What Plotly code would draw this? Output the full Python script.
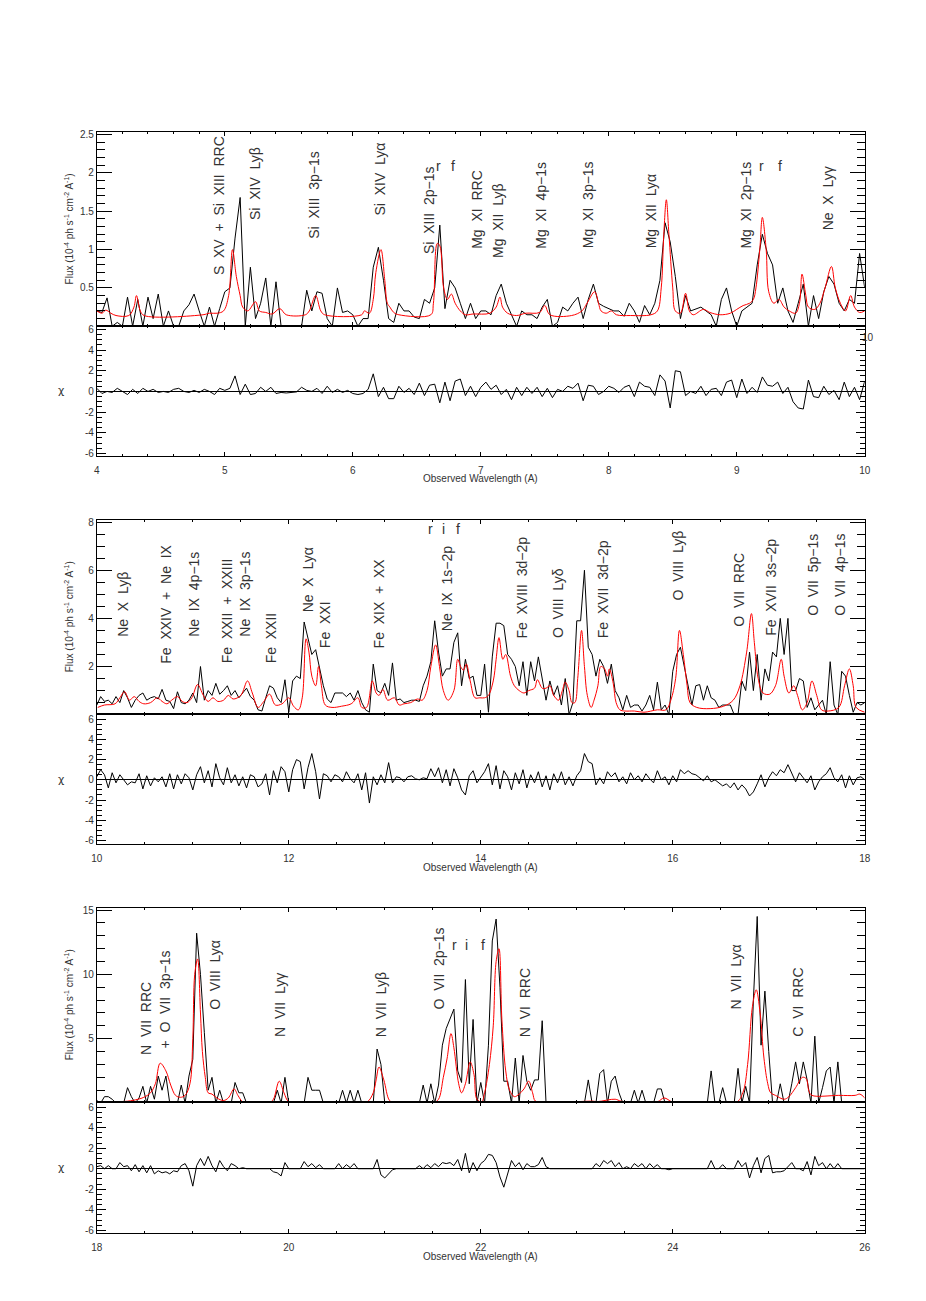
import numpy as np
import plotly.graph_objects as go

# ---------------- panel 1 : 4 - 10 A ----------------
wave1 = np.round(np.arange(4.0, 10.0001, 0.04), 2)
flux1 = [0.20, 0.18, 0.37, 0.00, 0.05, 0.00, 0.38, 0.00, 0.35, 0.00,
         0.38, 0.10, 0.42, 0.00, 0.20, 0.00, 0.00, 0.20, 0.28, 0.42,
         0.20, 0.00, 0.25, 0.00, 0.23, 0.45, 0.50, 1.15, 1.68, 0.00,
         0.77, 0.10, 0.30, 0.63, 0.00, 0.58, 0.00, 0.00, 0.00, 0.00,
         0.00, 0.47, 0.20, 0.45, 0.43, 0.10, 0.00, 0.50, 0.18, 0.20,
         0.15, 0.00, 0.10, 0.10, 0.77, 1.03, 0.60, 0.10, 0.05, 0.30,
         0.20, 0.20, 0.12, 0.10, 0.35, 0.30, 0.50, 1.32, 0.23, 0.60,
         0.50, 0.30, 0.10, 0.30, 0.10, 0.20, 0.20, 0.15, 0.40, 0.55,
         0.30, 0.15, 0.00, 0.20, 0.15, 0.15, 0.10, 0.25, 0.35, 0.00,
         0.05, 0.25, 0.20, 0.30, 0.38, 0.10, 0.35, 0.55, 0.30, 0.26,
         0.23, 0.20, 0.20, 0.13, 0.30, 0.20, 0.05, 0.27, 0.15, 0.30,
         0.60, 1.35, 1.10, 0.65, 0.10, 0.40, 0.20, 0.23, 0.25, 0.20,
         0.15, 0.00, 0.35, 0.50, 0.20, 0.00, 0.20, 0.25, 0.30, 0.80,
         1.20, 0.95, 0.80, 0.30, 0.50, 0.20, 0.05, 0.30, 0.55, 0.00,
         0.40, 0.10, 0.45, 0.65, 0.55, 0.30, 0.20, 0.35, 0.30, 0.95,
         0.50]
chi1 = [0.3, -0.2, 0.0, -0.1, 0.3, 0.0, -0.3, 0.2, -0.2, 0.3,
        0.0, 0.2, -0.1, 0.0, -0.1, 0.2, 0.3, 0.0, -0.1, 0.1,
        -0.1, 0.2, 0.0, -0.3, 0.3, 0.1, 0.3, 1.5, -0.3, 0.7,
        -0.3, -0.2, 0.4, 0.0, 0.4, -0.2, -0.1, -0.15, -0.1, -0.05,
        0.4, 0.1, 0.0, 0.3, -0.2, 0.5, -0.1, 0.2, -0.1, 0.1,
        -0.2, -0.3, -0.2, 0.2, 1.7, -0.5, 0.4, -0.7, -0.7, 0.5,
        -0.1, 0.3, -0.3, 0.8, -0.4, 0.6, 0.7, -1.1, 0.9, -0.9,
        1.0, 1.2, -0.4, 0.5, -0.5, 0.4, 0.9, 0.2, 0.6, -0.3,
        0.2, -0.8, 0.4, -0.4, 0.4, -0.2, 0.4, -0.5, 0.3, -0.6,
        0.2, 0.0, 0.5, 0.3, 0.8, -0.9, 0.6, 0.5, -0.3, 0.0,
        0.5, 0.3, -0.1, 0.4, 0.6, -0.5, 0.9, 0.5, 0.4, -0.4,
        1.6, 1.0, -1.6, 2.0, 1.9, -0.4, 0.0, -0.2, 0.5, -0.4,
        0.2, 0.3, -0.4, 0.9, 1.1, -0.6, 1.2, -0.2, 0.4, -0.1,
        1.4, 0.6, 0.5, 0.9, -0.2, 0.4, -1.0, -1.6, -1.7, 1.1,
        -0.5, -0.6, 0.5, -0.3, 0.1, -0.8, 0.9, -0.5, 0.4, -0.8,
        1.0]
mwave1 = [4.00, 4.04, 4.07, 4.11, 4.15, 4.25, 4.29, 4.31, 4.34, 4.37,
          4.83, 4.88, 4.94, 4.99, 5.03, 5.06, 5.09, 5.12, 5.14, 5.18,
          5.24, 5.27, 5.32, 5.37, 5.43, 5.48, 5.63, 5.66, 5.71, 5.75,
          5.78, 6.07, 6.09, 6.13, 6.16, 6.18, 6.22, 6.25, 6.27, 6.29,
          6.32, 6.36, 6.61, 6.63, 6.66, 6.68, 6.71, 6.74, 6.77, 6.80,
          6.84, 6.88, 6.94, 7.07, 7.12, 7.15, 7.17, 7.21, 7.28, 7.35,
          7.46, 7.50, 7.54, 7.71, 7.79, 7.83, 7.89, 7.92, 7.94, 7.98,
          8.02, 8.06, 8.17, 8.33, 8.38, 8.41, 8.43, 8.45, 8.47, 8.50,
          8.52, 8.56, 8.60, 8.63, 8.66, 8.74, 8.79, 8.87, 8.95, 9.00,
          9.05, 9.10, 9.13, 9.15, 9.18, 9.20, 9.23, 9.25, 9.29, 9.33,
          9.37, 9.41, 9.46, 9.49, 9.51, 9.54, 9.56, 9.61, 9.65, 9.69,
          9.74, 9.77, 9.81, 9.85, 9.89, 9.92, 9.96, 10.00]
mflux1 = [0.20, 0.17, 0.21, 0.17, 0.14, 0.14, 0.25, 0.40, 0.20, 0.14,
          0.15, 0.17, 0.17, 0.20, 0.40, 1.00, 0.65, 0.40, 0.25, 0.20,
          0.32, 0.20, 0.18, 0.16, 0.23, 0.15, 0.15, 0.20, 0.40, 0.20,
          0.15, 0.15, 0.20, 0.17, 0.35, 0.70, 1.00, 0.60, 0.30, 0.25,
          0.18, 0.15, 0.15, 0.30, 1.08, 1.05, 0.50, 0.35, 0.42, 0.30,
          0.20, 0.15, 0.16, 0.17, 0.25, 0.38, 0.25, 0.17, 0.14, 0.17,
          0.18, 0.27, 0.15, 0.14, 0.20, 0.30, 0.45, 0.30, 0.20, 0.17,
          0.20, 0.15, 0.14, 0.15, 0.20, 0.50, 1.20, 1.65, 1.20, 0.50,
          0.20, 0.17, 0.43, 0.20, 0.15, 0.22, 0.18, 0.15, 0.17, 0.22,
          0.27, 0.30, 0.35, 0.50, 1.00, 1.42, 1.00, 0.45, 0.30, 0.35,
          0.25, 0.20, 0.17, 0.30, 0.68, 0.40, 0.25, 0.22, 0.30, 0.50,
          0.78, 0.50, 0.30, 0.20, 0.40, 0.25, 0.18, 0.20]

# ---------------- panel 2 : 10 - 18 A ----------------
wave2 = np.round(np.arange(10.0, 18.0001, 0.04), 2)
flux2 = [0.4, 0.75, 0.55, 0.6, 0.45, 0.75, 0.5, 1.0, 0.7, 0.3,
         0.6, 0.8, 0.9, 0.6, 0.7, 0.75, 0.65, 1.05, 0.6, 0.55,
         0.25, 0.95, 0.5, 0.45, 0.6, 0.9, 0.5, 2.0, 0.6, 1.0,
         0.8, 1.3, 0.85, 1.0, 1.2, 0.8, 1.0, 0.7, 0.9, 1.1,
         0.75, 0.6, 0.2, 0.15, 0.7, 1.2, 1.1, 0.7, 0.5, 1.45,
         0.1, 1.4, 1.6, 1.5, 3.85, 3.2, 2.5, 2.7, 2.0, 1.2,
         0.65, 0.5, 0.9, 0.9, 0.9, 0.75, 0.9, 0.6, 1.0, 0.5,
         0.2, 0.1, 2.1, 1.0, 0.9, 1.3, 0.8, 2.15, 0.6, 0.65,
         0.5, 0.55, 0.6, 0.6, 0.55, 1.2, 1.6, 2.2, 3.9, 2.6,
         1.6, 1.9, 1.9, 3.0, 3.4, 1.2, 2.3, 1.5, 1.6, 0.8,
         0.8, 2.1, 0.1, 2.4, 3.8, 3.8, 3.7, 2.5, 2.3, 2.0,
         1.2, 2.2, 0.8, 2.2, 1.4, 2.4, 1.5, 0.6, 1.4, 0.8,
         1.2, 0.4, 1.5, 0.0, 0.5, 3.9, 3.9, 6.0, 2.8, 2.5,
         1.6, 2.3, 2.0, 1.3, 2.1, 1.0, 0.7, 0.2, 0.8, 0.3,
         0.4, 0.4, 0.15, 0.4, 0.8, 0.2, 1.35, 0.2, 0.4, 0.0,
         1.8, 2.5, 2.8, 2.0, 1.2, 0.4, 1.2, 1.25, 0.6, 1.2,
         0.7, 0.6, 0.3, 0.4, 0.4, 0.4, 0.0, 0.0, 1.4, 1.0,
         2.6, 1.0, 2.5, 0.6, 1.9, 1.4, 2.6, 2.4, 4.0, 2.5,
         4.0, 1.0, 1.0, 1.5, 1.4, 0.3, 0.7, 0.2, 0.4, 0.6,
         0.0, 2.2, 0.4, 0.0, 1.8, 1.6, 0.8, 0.1, 0.5, 0.4,
         0.5]
chi2 = [0.3, 1.0, 0.5, -0.8, 0.7, -0.3, 0.5, 0.0, -0.5, -0.2,
        -0.3, 0.6, -0.9, 0.4, -0.6, 0.2, -0.2, 0.3, -0.7, 0.6,
        -0.9, 0.5, -0.4, 0.6, 0.2, -1.0, 0.5, 1.3, -0.3, 0.9,
        -0.7, 1.6, 0.2, -0.5, 1.2, -0.3, 0.5, -0.6, 0.3, -0.8,
        0.5, 0.3, -0.7, -0.4, 0.6, -1.5, 0.9, -0.3, 1.3, 0.8,
        -1.2, 1.0, 2.0, 1.8, -0.9, 1.2, 2.6, 0.8, -1.9, 0.6,
        0.4, -0.2, 0.5, 0.3, -0.2, 0.8, 0.1, -0.3, 0.6, -1.0,
        0.7, -2.3, 0.3, -0.5, 0.5, -0.3, 1.7, -0.3, 0.3, 0.2,
        -0.2, 0.3, 0.4, 0.1, 0.0, 0.2, 0.1, 1.1, 0.3, 1.2,
        -0.3, 1.0, -0.6, 1.1, 0.2, -1.0, -1.5, 0.4, 0.9, -0.3,
        0.3, 0.8, 1.6, -0.5, 1.4, -0.9, 0.9, 0.3, -1.0, 0.7,
        -0.4, 1.0, -0.8, 0.5, -0.3, 0.8, -0.7, 0.4, -1.0, 0.6,
        -0.3, 0.8, -0.5, 0.3, -0.6, 0.4, 0.9, 2.6, 1.8, 1.6,
        -0.5, 0.2, -0.4, 0.8, 0.3, 0.7, -0.2, 0.3, -0.4, 0.7,
        0.0, 0.4, -0.2, 0.6, 0.1, -0.3, 0.9, 0.0, 0.3, -0.5,
        0.4, -0.2, 1.0, 0.6, 0.9, 0.6, 0.5, 0.2, -0.1, 0.4,
        -0.2, 0.0, -0.3, -0.6, -0.4, -0.8, -0.3, -1.0, -0.5, -0.9,
        -1.6, -1.2, -0.4, 0.5, -0.7, 0.2, 0.8, 0.4, 1.0, 0.7,
        1.5, 0.6, -0.2, 0.7, 0.2, -0.3, 0.4, -1.0, -0.2, 0.3,
        0.6, 1.2, 0.2, -0.2, 0.5, -0.8, 0.4, -0.5, 0.2, 0.3,
        0.0]
mwave2 = [10.01, 10.08, 10.19, 10.24, 10.29, 10.34, 10.39, 10.44, 10.49, 10.56,
          10.63, 10.68, 10.73, 10.78, 10.84, 10.89, 10.94, 10.99, 11.05, 11.11,
          11.16, 11.21, 11.26, 11.32, 11.37, 11.42, 11.50, 11.57, 11.62, 11.68,
          11.74, 11.80, 11.86, 11.93, 12.00, 12.05, 12.10, 12.14, 12.18, 12.21,
          12.24, 12.28, 12.31, 12.34, 12.38, 12.45, 12.55, 12.65, 12.72, 12.76,
          12.81, 12.87, 12.91, 12.94, 12.98, 13.03, 13.10, 13.15, 13.20, 13.27,
          13.34, 13.39, 13.44, 13.48, 13.53, 13.57, 13.61, 13.66, 13.72, 13.76,
          13.79, 13.82, 13.85, 13.89, 13.94, 13.99, 14.04, 14.08, 14.13, 14.16,
          14.19, 14.23, 14.26, 14.31, 14.35, 14.40, 14.45, 14.50, 14.56, 14.59,
          14.64, 14.68, 14.72, 14.76, 14.81, 14.85, 14.88, 14.92, 14.95, 14.98,
          15.01, 15.05, 15.08, 15.11, 15.15, 15.18, 15.22, 15.25, 15.29, 15.32,
          15.34, 15.38, 15.41, 15.45, 15.50, 15.60, 15.70, 15.84, 15.93, 15.98,
          16.03, 16.07, 16.11, 16.15, 16.18, 16.25, 16.39, 16.53, 16.63, 16.70,
          16.77, 16.82, 16.85, 16.89, 16.94, 17.01, 17.07, 17.13, 17.16, 17.21,
          17.26, 17.30, 17.35, 17.40, 17.45, 17.50, 17.55, 17.62, 17.73, 17.79,
          17.84, 17.88, 17.91, 18.00]
mflux2 = [0.3, 0.4, 0.45, 0.7, 0.95, 0.6, 0.75, 0.55, 0.45, 0.5,
          0.7, 0.55, 0.45, 0.6, 0.75, 0.55, 0.5, 0.7, 1.25, 0.8,
          0.55, 0.7, 0.55, 0.6, 0.8, 0.65, 0.8, 1.4, 0.9, 0.3,
          0.55, 0.85, 0.4, 0.45, 0.7, 0.35, 0.2, 0.7, 3.15, 2.6,
          1.6, 1.2, 2.0, 1.2, 0.4, 0.3, 0.35, 0.45, 0.7, 0.3,
          0.3, 1.4, 0.9, 0.8, 1.05, 0.6, 0.7, 0.4, 0.45, 0.5,
          0.65, 0.6, 1.0, 2.0, 2.9, 2.0, 1.0, 0.6, 1.0, 2.3,
          2.0, 1.85, 2.1, 1.4, 0.7, 0.7, 0.7, 0.8, 1.4, 2.3,
          3.2, 2.3, 2.5, 1.6, 1.2, 1.0, 0.9, 1.0, 1.1, 1.45,
          1.1, 1.1, 1.2, 0.8, 0.6, 1.0, 1.35, 1.0, 0.5, 0.5,
          1.5, 3.5, 2.0, 0.8, 0.3, 0.6, 1.2, 2.0, 1.9, 1.6,
          1.9, 1.3, 0.5, 0.2, 0.15, 0.15, 0.1, 0.2, 0.2, 0.6,
          1.5, 3.5, 2.5, 1.2, 0.5, 0.3, 0.25, 0.35, 0.6, 1.2,
          2.6, 4.2, 3.0, 1.5, 0.9, 0.85, 1.2, 2.3, 1.6, 0.9,
          1.2, 0.8, 0.2, 0.5, 1.4, 0.8, 0.2, 0.15, 0.3, 1.2,
          1.9, 1.2, 0.3, 0.1]

# ---------------- panel 3 : 18 - 26 A ----------------
wave3 = np.round(np.arange(18.0, 26.0001, 0.04), 2)
flux3 = [0.2, 0.0, 0.5, 0.5, 0.3, 0.0, 0.0, 0.0, 1.2, 0.5,
         0.0, 0.4, 1.3, 0.0, 1.3, 0.3, 2.1, 1.0, 2.1, 0.0,
         0.0, 0.0, 1.4, 0.0, 2.1, 3.4, 13.2, 10.0, 5.5, 1.0,
         2.0, 0.0, 1.0, 0.0, 0.0, 0.0, 1.6, 0.8, 0.8, 0.0,
         0.0, 0.0, 0.0, 0.0, 0.0, 0.0, 0.0, 1.0, 0.0, 2.0,
         0.0, 0.0, 0.0, 0.0, 0.0, 2.0, 1.0, 1.0, 1.0, 0.0,
         0.0, 0.0, 0.0, 0.0, 1.0, 0.0, 1.0, 0.0, 1.0, 0.0,
         0.0, 0.0, 0.0, 4.2, 3.0, 0.0, 0.0, 0.0, 0.0, 0.0,
         0.0, 0.0, 0.0, 0.0, 0.0, 1.4, 0.0, 1.5, 0.0, 1.4,
         4.5, 5.8, 6.5, 7.3, 2.5, 1.6, 9.6, 1.5, 6.5, 0.0,
         1.6, 0.0, 4.5, 12.6, 14.3, 9.0, 1.7, 1.7, 0.0, 3.5,
         0.0, 3.7, 1.7, 1.0, 1.8, 1.8, 6.4, 0.0, 0.0, 0.0,
         0.0, 0.0, 0.0, 0.0, 0.0, 0.0, 0.0, 0.0, 1.8, 0.0,
         0.0, 2.3, 2.6, 0.0, 1.7, 2.1, 0.8, 0.0, 0.0, 0.0,
         1.0, 0.0, 1.0, 0.0, 0.0, 0.0, 1.1, 1.1, 0.0, 0.0,
         0.0, 0.0, 0.0, 0.0, 0.0, 0.0, 0.0, 0.0, 0.0, 0.0,
         2.5, 0.0, 0.0, 1.2, 0.0, 0.0, 0.0, 2.7, 0.0, 1.3,
         0.0, 8.0, 14.5, 4.5, 8.7, 4.0, 0.0, 0.0, 1.5, 0.0,
         0.0, 1.5, 3.2, 1.5, 3.2, 1.8, 0.0, 5.2, 0.0, 1.2,
         2.5, 2.8, 0.0, 3.2, 0.0, 0.0, 0.0, 0.0, 0.0, 0.0,
         0.0]
chi3 = [0.2, 0.3, 0.0, 0.3, 0.0, 0.0, 0.6, 0.2, 0.3, -0.2,
        0.4, -0.3, 0.3, -0.4, 0.3, -0.5, -0.2, -0.4, -0.3, -0.5,
        -0.2, -0.3, 0.3, 0.5, -0.2, -1.7, 0.3, 1.0, 0.3, 1.2,
        0.3, -0.3, 0.8, 0.2, -0.2, 0.5, 0.3, 0.0, 0.1, 0.0,
        0.0, 0.0, 0.0, 0.0, 0.0, 0.0, -0.3, -0.4, -0.7, 0.6,
        0.0, 0.0, 0.0, 0.0, 0.7, 0.2, 0.5, 0.1, 0.4, 0.0,
        0.0, 0.0, 0.0, 0.5, 0.0, 0.4, 0.1, 0.5, 0.0, 0.0,
        0.0, 0.0, 0.0, 0.9, -0.6, -0.9, -0.5, -0.1, 0.0, 0.0,
        0.0, 0.0, 0.0, 0.0, 0.3, 0.0, 0.4, 0.1, 0.5, 0.2,
        0.6, 0.5, 0.6, 0.3, 0.9, -0.2, 1.5, -0.4, 0.6, -0.2,
        0.5, 0.8, 1.4, 1.3, 0.6, -0.8, -1.8, -0.6, 0.8, 0.2,
        0.6, -0.1, 0.5, 0.2, 0.2, 0.4, 1.1, 0.2, 0.0, 0.0,
        0.0, 0.0, 0.0, 0.0, 0.0, 0.0, 0.0, 0.0, 0.0, 0.0,
        0.5, 0.2, 0.8, 0.5, 0.8, 0.2, 0.6, 0.0, 0.2, 0.0,
        0.5, 0.2, 0.5, 0.0, 0.5, 0.1, 0.4, 0.0, 0.0, -0.1,
        0.0, 0.0, 0.0, 0.0, 0.0, 0.0, 0.0, 0.0, 0.0, 0.0,
        0.8, 0.0, 0.0, 0.4, 0.0, 0.0, 0.0, 0.8, 0.2, 0.6,
        -0.9, 0.3, 1.1, -0.4, 1.0, 1.3, -0.4, -0.3, -0.3, -0.2,
        0.2, 0.6, 0.0, 0.0, -0.2, 0.7, -0.6, 1.2, 0.3, 0.6,
        0.0, 0.5, 0.0, 0.5, 0.0, 0.0, 0.0, 0.0, 0.0, 0.0,
        0.0]
mwave3 = [18.01, 18.15, 18.32, 18.43, 18.49, 18.56, 18.61, 18.66, 18.72, 18.77,
          18.82, 18.87, 18.92, 18.97, 19.00, 19.02, 19.05, 19.08, 19.10, 19.13,
          19.16, 19.20, 19.25, 19.32, 19.37, 19.43, 19.47, 19.52, 19.59, 19.80,
          19.84, 19.90, 19.95, 20.00, 20.14, 20.76, 20.82, 20.88, 20.91, 20.94,
          20.99, 21.05, 21.10, 21.51, 21.56, 21.61, 21.65, 21.69, 21.72, 21.77,
          21.80, 21.84, 21.89, 21.93, 21.96, 22.01, 22.04, 22.09, 22.13, 22.16,
          22.19, 22.22, 22.26, 22.30, 22.35, 22.40, 22.45, 22.50, 22.54, 22.57,
          22.68, 22.95, 23.16, 23.22, 23.40, 23.46, 23.63, 23.84, 23.91, 23.99,
          24.05, 24.66, 24.73, 24.78, 24.83, 24.87, 24.91, 24.95, 24.99, 25.02,
          25.07, 25.16, 25.21, 25.28, 25.35, 25.39, 25.42, 25.45, 25.73, 25.90,
          25.95, 26.00]
mflux3 = [0.1, 0.1, 0.15, 0.3, 0.45, 0.8, 1.5, 3.1, 2.5, 1.4,
          0.6, 0.45, 0.6, 1.5, 5.0, 10.0, 11.2, 7.0, 4.0, 2.0,
          0.8, 0.7, 0.4, 0.2, 0.4, 1.1, 0.6, 0.1, 0.05, 0.05,
          0.3, 1.7, 0.8, 0.1, 0.05, 0.05, 0.1, 0.8, 1.8, 2.8,
          1.8, 0.2, 0.05, 0.05, 0.3, 2.0, 3.5, 5.4, 4.3, 1.5,
          0.8, 1.5, 3.2, 2.2, 0.3, 0.1, 0.8, 3.0, 6.0, 11.0,
          12.0, 6.5, 2.5, 1.0, 0.5, 0.7, 1.1, 1.7, 0.8, 0.15,
          0.1, 0.1, 0.15, 0.12, 0.3, 0.15, 0.05, 0.1, 0.4, 0.1,
          0.05, 0.05, 0.8, 3.0, 7.5, 8.8, 7.0, 3.5, 1.5, 0.8,
          0.6, 0.3, 0.5, 1.2, 2.0, 1.9, 0.9, 0.6, 0.6, 0.6,
          0.7, 0.4]

# line identifications: (text, wavelength, flux at the foot of the text)
labels1 = [("S  XV  +  Si  XIII  RRC", 4.95, 0.64), ("Si  XIV  Lyβ", 5.24, 1.36),
           ("Si  XIII  3p−1s", 5.70, 1.12), ("Si  XIV  Lyα", 6.21, 1.42),
           ("Si  XIII  2p−1s", 6.59, 0.92), ("Mg  XI  RRC", 6.97, 0.99),
           ("Mg  XII  Lyβ", 7.13, 0.87), ("Mg  XI  4p−1s", 7.47, 0.99),
           ("Mg  XI  3p−1s", 7.84, 0.99), ("Mg  XII  Lyα", 8.33, 0.99),
           ("Mg  XI  2p−1s", 9.07, 0.99), ("Ne  X  Lyγ", 9.71, 1.22)]
letters1 = [("r", 6.67, 2.09), ("f", 6.78, 2.09), ("r", 9.19, 2.09), ("f", 9.34, 2.09)]

labels2 = [("Ne  X  Lyβ", 10.27, 3.16), ("Fe  XXIV  +  Ne  IX", 10.72, 2.05),
           ("Ne  IX  4p−1s", 11.01, 3.16), ("Fe  XXII  +  XXIII", 11.35, 2.05),
           ("Ne  IX  3p−1s", 11.55, 3.16), ("Fe  XXII", 11.81, 2.05),
           ("Ne  X  Lyα", 12.20, 4.19), ("Fe  XXI", 12.38, 2.67),
           ("Fe  XIX  +  XX", 12.94, 2.67), ("Ne  IX  1s−2p", 13.65, 3.37),
           ("Fe  XVIII  3d−2p", 14.42, 3.08), ("O  VIII  Lyδ", 14.80, 3.08),
           ("Fe  XVII  3d−2p", 15.27, 3.08), ("O  VIII  Lyβ", 16.05, 4.64),
           ("O  VII  RRC", 16.69, 3.57), ("Fe  XVII  3s−2p", 17.02, 3.20),
           ("O  VII  5p−1s", 17.46, 4.02), ("O  VII  4p−1s", 17.74, 4.02)]
letters2 = [("r", 13.48, 7.72), ("i", 13.61, 7.72), ("f", 13.76, 7.72)]

labels3 = [("N  VII  RRC", 18.52, 3.6), ("+  O  VII  3p−1s", 18.71, 4.08),
           ("O  VIII  Lyα", 19.23, 7.08), ("N  VII  Lyγ", 19.91, 5.0),
           ("N  VII  Lyβ", 20.96, 5.0), ("O  VII  2p−1s", 21.56, 7.08),
           ("N  VI  RRC", 22.46, 5.0), ("N  VII  Lyα", 24.66, 7.08),
           ("C  VI  RRC", 25.31, 5.0)]
letters3 = [("r", 21.73, 12.3), ("i", 21.85, 12.3), ("f", 22.02, 12.3)]

FONT = "Liberation Sans"
W, H = 926, 1301


def px_x(p):
    return p / W


def px_y(p):
    return 1 - p / H


panels = [
    dict(wave=wave1, flux=flux1, chi=chi1, mw=mwave1, mf=mflux1, labels=labels1, letters=letters1,
         xr=[4, 10], xd=1, xm=0.2, yr=[0.0, 2.53], yt=[0.5, 1, 1.5, 2, 2.5], ym=0.1,
         cr=[-6.2, 6.3], top=129, mid=324, bot=454),
    dict(wave=wave2, flux=flux2, chi=chi2, mw=mwave2, mf=mflux2, labels=labels2, letters=letters2,
         xr=[10, 18], xd=2, xm=0.5, yr=[0.02, 8.08], yt=[2, 4, 6, 8], ym=0.5,
         cr=[-6.4, 6.5], top=519, mid=714, bot=845),
    dict(wave=wave3, flux=flux3, chi=chi3, mw=mwave3, mf=mflux3, labels=labels3, letters=letters3,
         xr=[18, 26], xd=2, xm=0.5, yr=[0.08, 15.15], yt=[5, 10, 15], ym=1,
         cr=[-6.3, 6.5], top=909, mid=1104, bot=1236),
]

fig = go.Figure()
axis_base = dict(showline=True, linecolor="black", linewidth=1, mirror="allticks",
                 ticks="inside", tickcolor="black", tickwidth=1, showgrid=False, zeroline=False,
                 tickfont=dict(family=FONT, size=10, color="#333"))
xdom = [px_x(92), px_x(870)]
annotations = []

for k, p in enumerate(panels):
    nf, nr = 2 * k + 1, 2 * k + 2
    xf = "x" if nf == 1 else f"x{nf}"
    yf = "y" if nf == 1 else f"y{nf}"
    xr_, yr_ = f"x{nr}", f"y{nr}"

    fig.add_trace(go.Scatter(x=p["wave"], y=p["flux"], mode="lines",
                             line=dict(color="black", width=1), xaxis=xf, yaxis=yf, showlegend=False))
    fig.add_trace(go.Scatter(x=p["mw"], y=p["mf"], mode="lines", line_shape="spline",
                             line=dict(color="#ff0000", width=1), xaxis=xf, yaxis=yf, showlegend=False))
    fig.add_trace(go.Scatter(x=p["wave"], y=p["chi"], mode="lines",
                             line=dict(color="black", width=1), xaxis=xr_, yaxis=yr_, showlegend=False))

    fdom = [px_y(p["mid"]), px_y(p["top"])]
    rdom = [px_y(p["bot"]), px_y(p["mid"])]

    fig.layout[f"xaxis{'' if nf == 1 else nf}"] = dict(
        axis_base, domain=xdom, anchor=yf, range=p["xr"], dtick=p["xd"], tick0=0,
        ticklen=4, showticklabels=False,
        minor=dict(ticks="inside", dtick=p["xm"], ticklen=2, tickcolor="black"))
    fig.layout[f"yaxis{'' if nf == 1 else nf}"] = dict(
        axis_base, domain=fdom, anchor=xf, range=p["yr"], tickvals=p["yt"],
        ticklen=15, minor=dict(ticks="inside", dtick=p["ym"], ticklen=8, tickcolor="black"))
    fig.layout[f"xaxis{nr}"] = dict(
        axis_base, domain=xdom, anchor=yr_, range=p["xr"], dtick=p["xd"], tick0=0,
        ticklen=4, ticklabelstandoff=5,
        minor=dict(ticks="inside", dtick=p["xm"], ticklen=2, tickcolor="black"))
    fig.layout[f"yaxis{nr}"] = dict(
        axis_base, domain=rdom, anchor=xr_, range=p["cr"],
        tickvals=[-6, -4, -2, 0, 2, 4, 6], ticktext=["-6", "-4", "-2", "0", "2", "4", "6"],
        ticklen=9, zeroline=True, zerolinecolor="black", zerolinewidth=1,
        minor=dict(ticks="inside", dtick=0.5, ticklen=5, tickcolor="black"))

    for text, x, y in p["labels"]:
        annotations.append(dict(text=text, x=x, y=y, xref=xf, yref=yf, textangle=-90,
                                xanchor="center", yanchor="bottom", showarrow=False,
                                font=dict(family=FONT, size=14, color="#333")))
    for text, x, y in p["letters"]:
        annotations.append(dict(text=text, x=x, y=y, xref=xf, yref=yf,
                                xanchor="center", yanchor="middle", showarrow=False,
                                font=dict(family=FONT, size=14, color="#333")))

    # axis titles
    annotations.append(dict(text="Flux (10<sup>-4</sup> ph s<sup>-1</sup> cm<sup>-2</sup> A<sup>-1</sup>)",
                            x=px_x(64), y=(fdom[0] + fdom[1]) / 2, xref="paper", yref="paper",
                            xanchor="center", yanchor="middle", textangle=-90, showarrow=False,
                            font=dict(family=FONT, size=10, color="#333")))
    annotations.append(dict(text="χ", x=px_x(56), y=(rdom[0] + rdom[1]) / 2,
                            xref="paper", yref="paper", xanchor="center", yanchor="middle",
                            showarrow=False, font=dict(family="DejaVu Sans", size=11, color="#333")))
    annotations.append(dict(text="Observed Wavelength (A)", x=px_x(481), y=px_y(p["bot"] + 23),
                            xref="paper", yref="paper", showarrow=False,
                            xanchor="center", yanchor="middle",
                            font=dict(family=FONT, size=10, color="#333")))

# stray "10" printed at the right edge of the first residual box
annotations.append(dict(text="10", x=px_x(873), y=px_y(335), xref="paper", yref="paper",
                        xanchor="center", yanchor="middle",
                        showarrow=False, font=dict(family=FONT, size=10, color="#333")))

fig.update_layout(width=W, height=H, margin=dict(l=0, r=0, t=0, b=0, pad=0),
                  plot_bgcolor="white", paper_bgcolor="white",
                  annotations=annotations, showlegend=False)

# the page is photographed at exactly the figure size, so drop the default body margin
fig.write_html("out.html", config={"displayModeBar": False},
               post_script="document.body.style.margin='0';")
